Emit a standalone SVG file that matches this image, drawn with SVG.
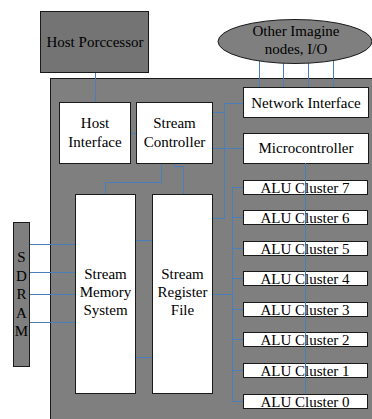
<svg xmlns="http://www.w3.org/2000/svg" width="372" height="419" viewBox="0 0 372 419" font-family="'Liberation Serif', 'Times New Roman', 'DejaVu Serif', serif">
<style>
.g{fill:#7f7f7f;stroke:#1a1a1a;stroke-width:1}
.w{fill:#ffffff;stroke:#1a1a1a;stroke-width:1}
.c{fill:none;stroke:#4a7ebb;stroke-width:1}
.t{font-family:'Liberation Serif','Times New Roman','DejaVu Serif',serif;font-size:15px;fill:#000;text-anchor:middle}
</style>
<rect width="372" height="419" fill="#ffffff"/>
<g id="body"><rect class="g" x="50.5" y="78.5" width="330" height="350"/></g>
<g id="connectors">
<path class="c" d="M95.5 72V102 M131 133.5H136 M259.5 58V87 M283.5 60V87 M308.5 60V87 M333.5 58V87 M213 112.5H224.5 M224.5 103V218.5H213 M224.5 103.5H243 M213 148.5H243 M161.5 163V182.5H105.5V194 M174.5 163V166.5H183.5V194 M135 240.5H152 M135 357.5H152 M29 244.5H75 M29 272.5H75 M29 294.5H75 M29 322.5H75 M213 294.5H232.5 M232.5 187V401.5 M232.5 187.5H243 M232.5 217.5H243 M232.5 248.5H243 M232.5 278.5H243 M232.5 309.5H243 M232.5 339.5H243 M232.5 370.5H243 M232.5 401.5H243"/>
</g>
<g class="t">
<g id="host-processor"><rect fill="#747474" stroke="#1a1a1a" x="40.5" y="11.5" width="108" height="61"/><text x="95" y="47">Host Porccessor</text></g>
<g id="other-nodes"><ellipse class="g" cx="295" cy="41.5" rx="77" ry="22"/><text x="296" y="36">Other Imagine</text><text x="296" y="54">nodes, I/O</text></g>
<g id="host-interface"><rect class="w" x="59.5" y="102.5" width="71" height="61"/><text x="95" y="128">Host</text><text x="95" y="147">Interface</text></g>
<g id="stream-controller"><rect class="w" x="136.5" y="102.5" width="76" height="61"/><text x="174.5" y="128">Stream</text><text x="174.5" y="147">Controller</text></g>
<g id="network-interface"><rect class="w" x="243.5" y="87.5" width="125" height="30"/><text x="306" y="108">Network Interface</text></g>
<g id="microcontroller"><rect class="w" x="243.5" y="133.5" width="125" height="30"/><text x="306" y="153">Microcontroller</text></g>
<g id="sdram"><rect class="g" x="13.5" y="222.5" width="16" height="144"/>
<text x="21.5" y="262">S</text><text x="21.5" y="281">D</text><text x="21.5" y="299">R</text><text x="21.5" y="318">A</text><text x="21.5" y="336">M</text></g>
<g id="stream-memory-system"><rect class="w" x="75.5" y="194.5" width="60" height="199"/><text x="105.5" y="279">Stream</text><text x="105.5" y="297">Memory</text><text x="105.5" y="315">System</text></g>
<g id="stream-register-file"><rect class="w" x="152.5" y="194.5" width="60" height="199"/><text x="182.5" y="279">Stream</text><text x="182.5" y="297">Register</text><text x="182.5" y="315">File</text></g>
<g id="alu7"><rect class="w" x="243.5" y="180.5" width="124" height="14"/></g>
<g id="alu6"><rect class="w" x="243.5" y="210.5" width="124" height="14"/></g>
<g id="alu5"><rect class="w" x="243.5" y="241.5" width="124" height="14"/></g>
<g id="alu4"><rect class="w" x="243.5" y="271.5" width="124" height="14"/></g>
<g id="alu3"><rect class="w" x="243.5" y="302.5" width="124" height="14"/></g>
<g id="alu2"><rect class="w" x="243.5" y="332.5" width="124" height="14"/></g>
<g id="alu1"><rect class="w" x="243.5" y="363.5" width="124" height="14"/></g>
<g id="alu0"><rect class="w" x="243.5" y="394.5" width="124" height="14"/></g>
<path class="c" d="M305.5 163V394"/>
<g id="alu-labels">
<text x="305" y="193">ALU Cluster 7</text>
<text x="305" y="223">ALU Cluster 6</text>
<text x="305" y="254">ALU Cluster 5</text>
<text x="305" y="284">ALU Cluster 4</text>
<text x="305" y="315">ALU Cluster 3</text>
<text x="305" y="345">ALU Cluster 2</text>
<text x="305" y="376">ALU Cluster 1</text>
<text x="305" y="407">ALU Cluster 0</text>
</g>
</g>
</svg>
